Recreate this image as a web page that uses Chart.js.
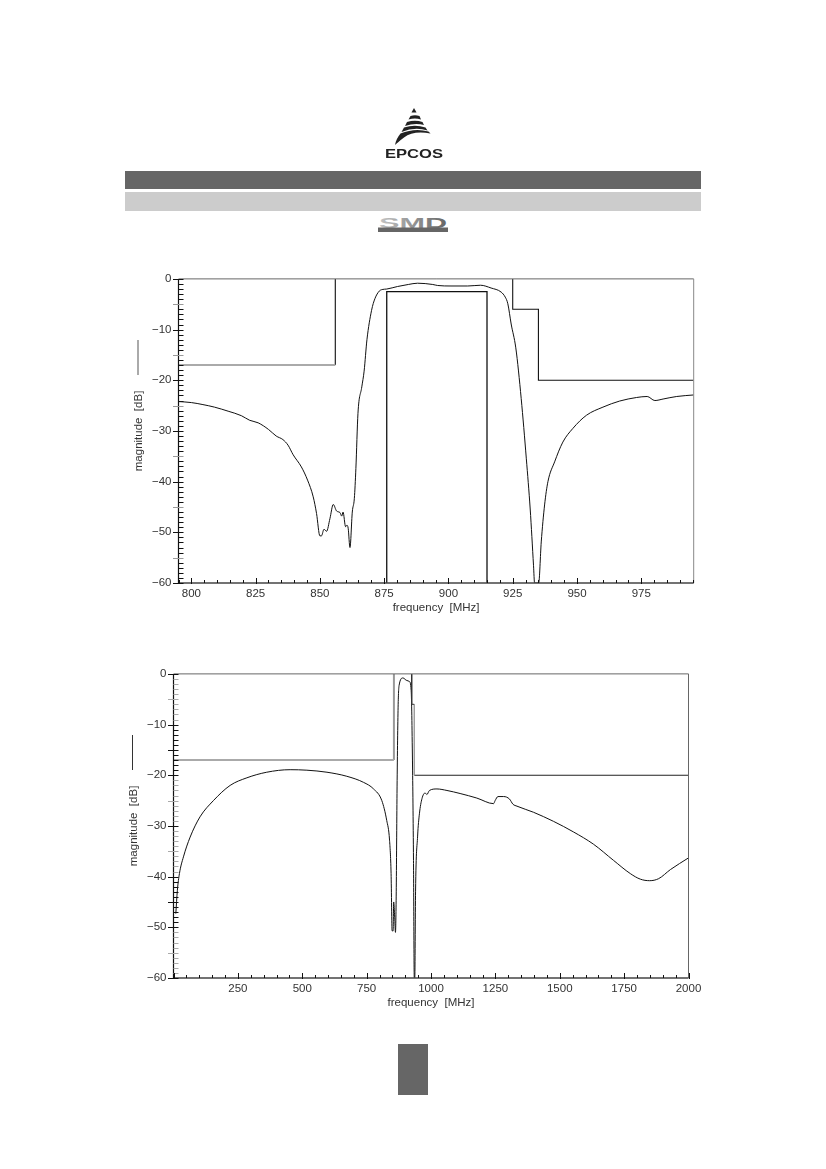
<!DOCTYPE html>
<html><head><meta charset="utf-8">
<script src="https://cdn.jsdelivr.net/npm/chart.js@4"></script>
<style>
html,body{margin:0;padding:0;background:#fff;width:826px;height:1169px;overflow:hidden}
.abs{position:absolute}
canvas{display:block}
</style></head><body>
<svg class="abs" style="left:375px;top:100px" width="80" height="62" viewBox="0 0 80 62">
  <defs><filter id="soft" x="-5%" y="-5%" width="110%" height="110%"><feGaussianBlur stdDeviation="0.35"/></filter>
  <linearGradient id="smdg" x1="0" x2="1" y1="0" y2="0"><stop offset="0" stop-color="#c4c4c4"/><stop offset=".45" stop-color="#999"/><stop offset="1" stop-color="#666"/></linearGradient></defs>
  <g fill="#222" filter="url(#soft)">
    <path d="M39 8 L41.5 12.5 L36.5 12.5 Z"/>
    <path d="M35.5 16 Q40 14.5 44.5 16 L46 19.5 Q40 17.5 33.5 19.5 Z"/>
    <path d="M32 22 Q40 19.5 47.5 22 L49 25 Q40 22.5 30 26 Z"/>
    <path d="M29 27.5 Q40 24 50.5 27.5 L52.5 30.5 Q40 26.5 26.5 32 Z"/>
    <path d="M25.5 33.5 Q40 27.5 53.5 31.5 L55.5 33.5 Q38 30.5 29 37.5 Q23 42 20 45 Q21 39 25.5 33.5 Z"/>
  </g>
  <text x="10" y="58" font-family="Liberation Sans" font-weight="700" font-size="12.5" textLength="58" lengthAdjust="spacingAndGlyphs" fill="#222" filter="url(#soft)">EPCOS</text>
</svg>
<div class="abs" style="left:125px;top:171px;width:576px;height:18px;background:#666"></div>
<div class="abs" style="left:125px;top:192px;width:576px;height:19px;background:#ccc"></div>
<svg class="abs" style="left:378px;top:216px" width="70" height="17" viewBox="0 0 70 17">
  <text x="1" y="12" font-family="Liberation Sans" font-weight="700" font-size="14" textLength="68" lengthAdjust="spacingAndGlyphs" fill="url(#smdg)">SMD</text>
  <rect x="0" y="11.5" width="70" height="4.5" fill="#666"/>
</svg>
<div class="abs" style="left:398px;top:1044px;width:30px;height:51px;background:#666"></div>
<div class="abs" style="left:136.5px;top:340px;width:2px;height:35px;background:#aaa"></div>
<div class="abs" style="left:131.5px;top:735px;width:1px;height:35px;background:#333"></div>

<div class="abs" style="left:125px;top:265px;width:580px;height:360px"><canvas id="c1" width="580" height="360"></canvas></div>
<div class="abs" style="left:120px;top:660px;width:590px;height:360px"><canvas id="c2" width="590" height="360"></canvas></div>

<script>
// ---- narrow band plot ----
const narrowFreq = [795,800,804.5,809,814.3,819.5,822.7,826,830,833,835.6,837.6,839.6,842.8,845.2,847.4,848.7,850,850.6,851.6,852.6,853.9,855.2,856.5,857.8,858.5,859,860,860.5,861,861.7,862.6,863.4,864,864.8,866.3,867.2,868.3,870.1,871.4,873.1,874.2,876,880.2,884.4,888,893.9,895.8,901,907.5,912.5,916.6,920.5,922.1,923.1,924.4,926.2,928.3,930.3,931.8,933.1,933.5,935.1,936.1,937.4,938.7,941.3,944.5,948.4,953.7,960.1,966.6,973.2,977.3,980.3,983.5,988.8,995.4];
const narrowDb = [-24.2,-24.4,-24.8,-25.3,-26.1,-27,-27.9,-28.4,-29.7,-31,-31.7,-32.8,-34.7,-37.1,-39.7,-43,-46.3,-50.7,-50.7,-49.4,-49.8,-47.3,-44.5,-45.8,-46.1,-46.8,-46,-48.9,-48.6,-49.2,-53,-46,-43.3,-37.4,-26.6,-21.3,-18.2,-12,-6.2,-3.9,-2.4,-2.1,-2,-1.5,-1.1,-0.85,-1.1,-1.3,-1.4,-1.4,-1.25,-1.8,-2.6,-3.6,-4.9,-8.9,-13.6,-23.6,-35.5,-45.4,-56.6,-60,-60,-51.9,-44.6,-40,-36.1,-32.2,-29.5,-26.9,-25.3,-24.1,-23.4,-23.2,-24,-23.7,-23.2,-22.9];
// ---- wide band plot ----
const wideFreq = [9,15,23,38.6,64.6,103,155,220,285,362,453,518,596,673,738,777,809,828,839,845,849,853,855,859,862,865,868,872,876,891,906,916,923,928,932,935,937,940,948,955,965,977,984,994,1023,1062,1113,1178,1243,1249,1260,1282,1305,1318,1334,1398,1476,1554,1631,1709,1774,1813,1849,1884,1930,2000];
const wideDb = [-47.3,-42.7,-39.4,-36.1,-32.2,-28.2,-25,-22,-20.5,-19.4,-18.9,-19,-19.4,-20.2,-21.4,-22.7,-25,-28.9,-32.8,-39.4,-50.7,-50.7,-45,-48,-51,-43,-23.6,-7.2,-2.3,-0.8,-1.3,-1.5,-3.3,-17,-36.8,-60,-60,-43,-32,-27.6,-24.6,-23.5,-23.8,-23,-22.7,-23,-23.6,-24.5,-25.6,-25,-24.2,-24.2,-24.7,-25.7,-26.1,-27.3,-29.1,-31.2,-33.6,-36.8,-39.4,-40.5,-40.8,-40.4,-38.6,-36.3];
// ---- limit masks ----
const lowStopFreq1 = [795,856], lowStopDb = [-17,-17];
const lowEdgeFreq = [856,856], lowEdgeDb = [-17,0];
const highStopFreq1 = [925,925,935,935,995.4], highStopDb1 = [0,-6,-6,-20,-20];
const passFreq = [876,876,915,915], passDb = [-60,-2.5,-2.5,-60];
const lowStopFreq2 = [0,856];
const highEdgeFreq2a = [925,925,935], highEdgeDb2a = [0,-6,-6];
const highEdgeFreq2b = [935,935], highEdgeDb2b = [-6,-20];
const highStopFreq2 = [935,2000], highStopDb2 = [-20,-20];
// ---- ticks ----
const narrowTicks = [800,825,850,875,900,925,950,975];
const wideTicks = [250,500,750,1000,1250,1500,1750,2000];
const dbTicks = [0,-10,-20,-30,-40,-50,-60];
const narrowMinorStep = 5, wideMinorStep = 50;
const wideGrayBands = [[-1,-9],[-21,-39],[-51,-59]];

const pts = (xs,ys)=>xs.map((x,i)=>({x,y:ys[i]}));
const FONT = 'Liberation Sans';
const line = (xs,ys,color,width)=>({data:pts(xs,ys),borderColor:color,borderWidth:width,pointRadius:0,tension:0,fill:false,borderCapStyle:'butt',borderJoinStyle:'miter'});
const curve = (xs,ys)=>Object.assign(line(xs,ys,'#111',1),{cubicInterpolationMode:'monotone'});

const innerTicks = {
  id:'innerTicks',
  afterDraw(chart,args,o){
    const {ctx,chartArea:a,scales:{x,y}}=chart;
    ctx.save();
    const seg=(x1,y1,x2,y2,c,w)=>{ctx.strokeStyle=c;ctx.lineWidth=w;ctx.beginPath();ctx.moveTo(x1,y1);ctx.lineTo(x2,y2);ctx.stroke();};
    seg(a.left,a.top,a.right,a.top,o.topColor,1);
    seg(a.right,a.top,a.right,a.bottom,o.rightColor,1);
    seg(a.left,a.bottom,a.right,a.bottom,'#444',1.4);
    seg(a.left,a.top,a.left,a.bottom,o.leftColor,1.2);
    for(let v=0;v>=-60;v--){
      const p=Math.round(y.getPixelForValue(v))+.5;
      const major=v%10===0, mid=v%5===0;
      let c='#111';
      if(o.grayBands && !major && o.grayBands.some(b=>v<=b[0]&&v>=b[1])) c='#aaa';
      if(!o.grayBands && mid && !major) c='#999';
      seg(a.left-(mid?5.5:0),p,a.left+5,p,c,1);
    }
    for(let v=Math.ceil(x.min/o.xStep)*o.xStep;v<=x.max;v+=o.xStep){
      const p=Math.round(x.getPixelForValue(v))+.5;
      const major=v%o.xMajor===0;
      seg(p,a.bottom+(major?1:0),p,a.bottom-(major?5:3),'#111',1);
    }
    ctx.restore();
  }
};

function makeChart(id,datasets,xr,xTicks,left,right,top,bottom,tickOpts){
  return new Chart(document.getElementById(id),{
    type:'line',
    data:{datasets},
    plugins:[innerTicks],
    options:{
      responsive:false,animation:false,parsing:false,normalized:true,
      layout:{padding:{top,right,left:0,bottom:0}},
      plugins:{legend:{display:false},tooltip:{enabled:false},title:{display:false},innerTicks:tickOpts},
      scales:{
        x:{type:'linear',min:xr[0],max:xr[1],
          afterBuildTicks(s){s.ticks=xTicks.map(value=>({value}));},
          afterFit(s){s.height=bottom;},
          border:{display:false},grid:{display:false,drawTicks:false},
          ticks:{autoSkip:false,maxRotation:0,padding:4,color:'#333',font:{family:FONT,size:11.5},callback:v=>String(v)},
          title:{display:true,text:'frequency  [MHz]',color:'#333',font:{family:FONT,size:11.5},padding:{top:0,bottom:10.5}}},
        y:{type:'linear',min:-60,max:0,
          afterBuildTicks(s){s.ticks=dbTicks.map(value=>({value}));},
          afterFit(s){s.width=left;},
          border:{display:false},grid:{display:false,drawTicks:false},
          ticks:{autoSkip:false,padding:7,color:'#333',font:{family:FONT,size:11.5},callback:v=>String(v).replace('-','\u2212')},
          title:{display:true,text:'magnitude  [dB]',color:'#333',font:{family:FONT,size:11.5},padding:{top:6.5,bottom:0}}}
      }
    }
  });
}

makeChart('c1',[
  line(lowStopFreq1,lowStopDb,'#aaa',2),
  line(lowEdgeFreq,lowEdgeDb,'#222',1.2),
  line(highStopFreq1,highStopDb1,'#111',1.1),
  line(passFreq,passDb,'#111',1.3),
  curve(narrowFreq,narrowDb)
],[795,995.4],narrowTicks,53.5,11.3,13,42,{topColor:'#666',rightColor:'#888',leftColor:'#111',xStep:narrowMinorStep,xMajor:25});

makeChart('c2',[
  line(lowStopFreq2,lowStopDb,'#aaa',2),
  line(lowEdgeFreq,lowEdgeDb,'#999',2),
  line(highEdgeFreq2a,highEdgeDb2a,'#333',1),
  line(highEdgeFreq2b,highEdgeDb2b,'#999',1.4),
  line(highStopFreq2,highStopDb2,'#222',1.1),
  curve(wideFreq,wideDb)
],[0,2000],wideTicks,53.5,21.5,13.5,42,{topColor:'#666',rightColor:'#666',leftColor:'#111',xStep:wideMinorStep,xMajor:250,grayBands:wideGrayBands});
</script>
</body></html>
